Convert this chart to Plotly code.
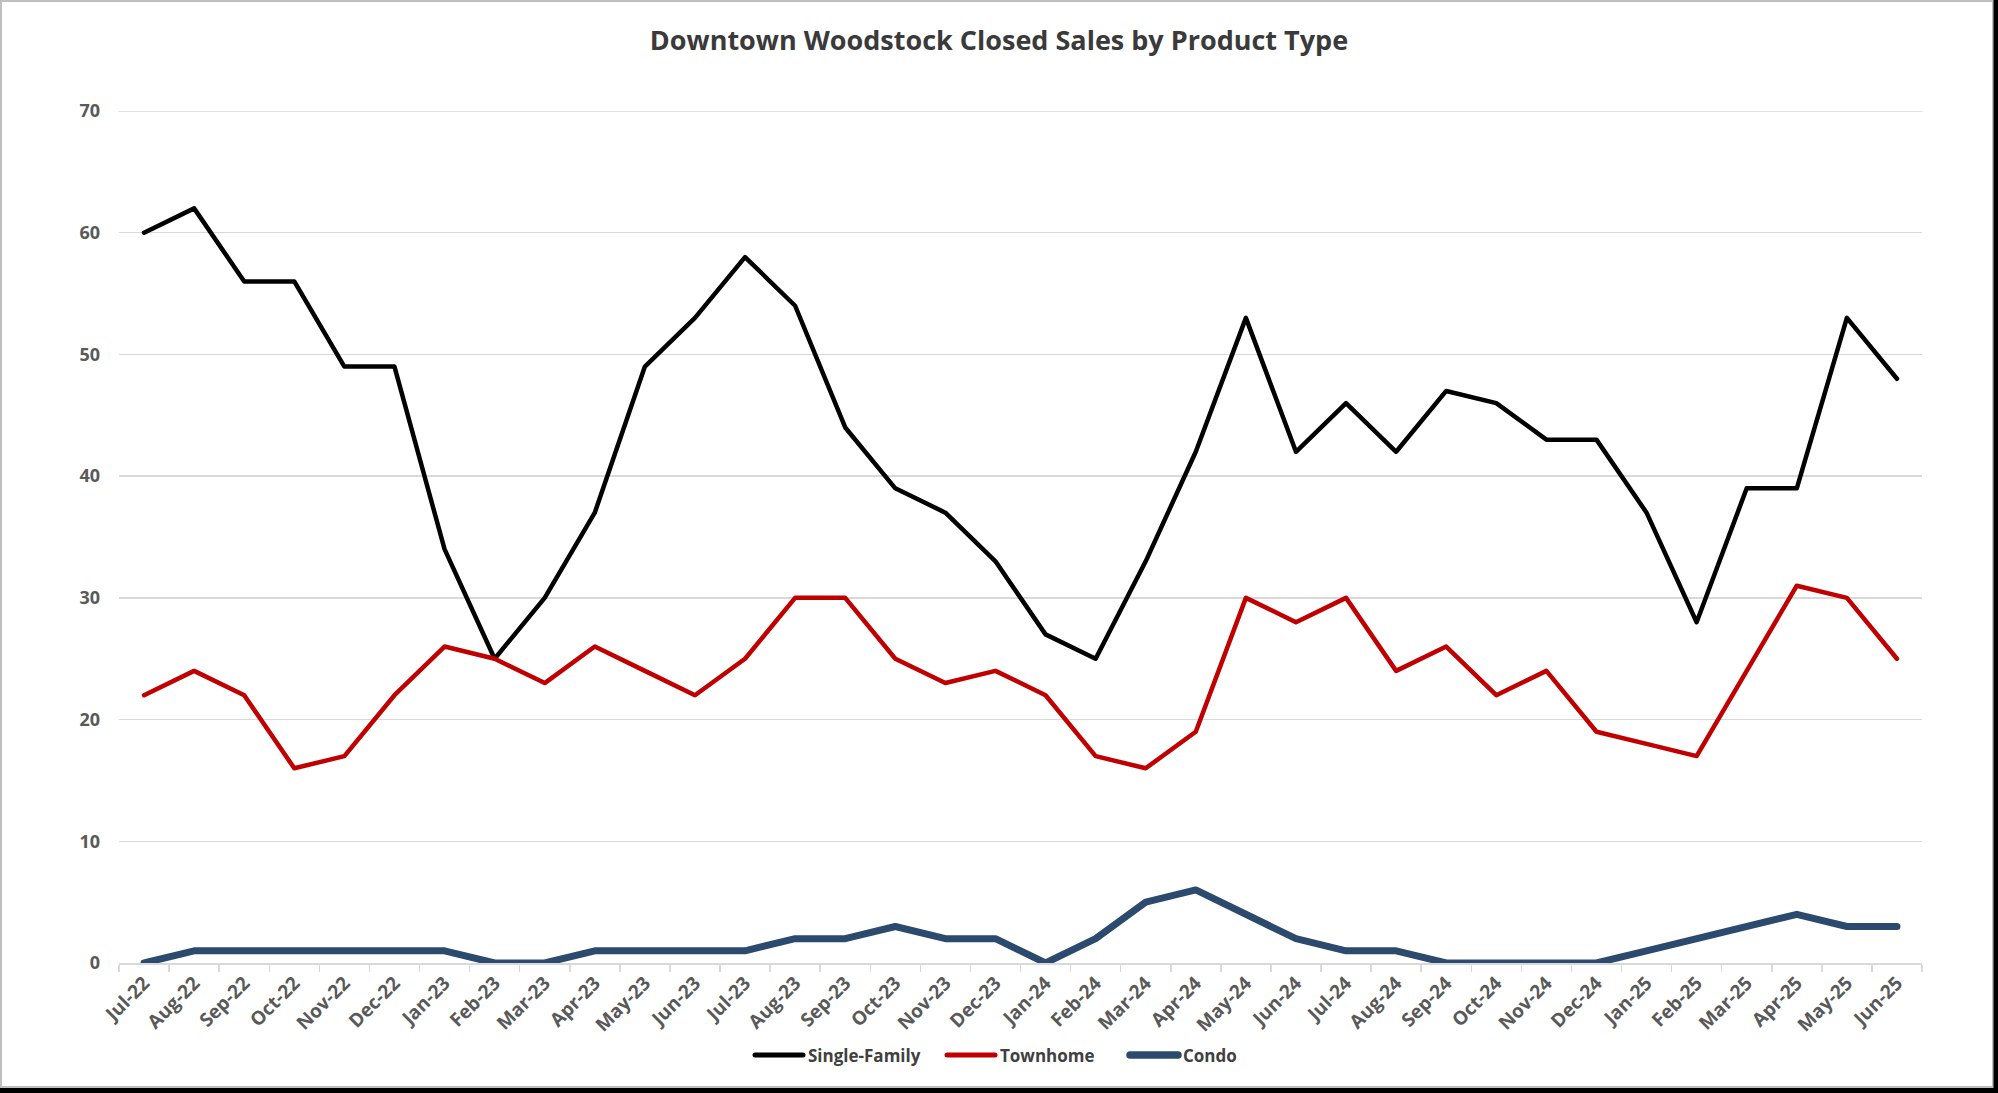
import plotly.graph_objects as go

months = ["Jul-22", "Aug-22", "Sep-22", "Oct-22", "Nov-22", "Dec-22",
          "Jan-23", "Feb-23", "Mar-23", "Apr-23", "May-23", "Jun-23",
          "Jul-23", "Aug-23", "Sep-23", "Oct-23", "Nov-23", "Dec-23",
          "Jan-24", "Feb-24", "Mar-24", "Apr-24", "May-24", "Jun-24",
          "Jul-24", "Aug-24", "Sep-24", "Oct-24", "Nov-24", "Dec-24",
          "Jan-25", "Feb-25", "Mar-25", "Apr-25", "May-25", "Jun-25"]

single_family = [60, 62, 56, 56, 49, 49, 34, 25, 30, 37, 49, 53,
                 58, 54, 44, 39, 37, 33, 27, 25, 33, 42, 53, 42,
                 46, 42, 47, 46, 43, 43, 37, 28, 39, 39, 53, 48]

townhome = [22, 24, 22, 16, 17, 22, 26, 25, 23, 26, 24, 22,
            25, 30, 30, 25, 23, 24, 22, 17, 16, 19, 30, 28,
            30, 24, 26, 22, 24, 19, 18, 17, 24, 31, 30, 25]

condo = [0, 1, 1, 1, 1, 1, 1, 0, 0, 1, 1, 1,
         1, 2, 2, 3, 2, 2, 0, 2, 5, 6, 4, 2,
         1, 1, 0, 0, 0, 0, 1, 2, 3, 4, 3, 3]

series_names = ["Single-Family", "Townhome", "Condo"]
series_colors = ["#000000", "#C00000", "#2C4A6E"]
series_widths = [4.5, 4.5, 7]

y_ticks = [0, 10, 20, 30, 40, 50, 60, 70]

W, H = 1998, 1093
ML, MR, MT, MB = 119, 76, 111, 130
PW, PH = W - ML - MR, H - MT - MB

FONT = "Open Sans"


def px_x(p):
    return (p - ML) / PW


def px_y(p):
    return (H - MB - p) / PH


fig = go.Figure()
for name, vals, col, wd in zip(series_names, [single_family, townhome, condo],
                               series_colors, series_widths):
    fig.add_trace(go.Scatter(x=months, y=vals, name=name, mode="lines",
                             line=dict(color=col, width=wd), showlegend=False))

shapes = [
    # top gridline (70)
    dict(type="line", xref="paper", yref="y", x0=0, x1=1, y0=70, y1=70,
         line=dict(color="#D9D9D9", width=1.5), layer="below"),
    # light frame
    dict(type="rect", xref="paper", yref="paper",
         x0=px_x(1), x1=px_x(W - 5), y0=px_y(1), y1=px_y(H - 6),
         line=dict(color="#BFBFBF", width=2), layer="above"),
    # dark right edge
    dict(type="line", xref="paper", yref="paper",
         x0=px_x(W - 2), x1=px_x(W - 2), y0=px_y(0), y1=px_y(H),
         line=dict(color="#000000", width=5), layer="above"),
    # dark bottom edge
    dict(type="line", xref="paper", yref="paper",
         x0=px_x(0), x1=px_x(W), y0=px_y(H - 2.5), y1=px_y(H - 2.5),
         line=dict(color="#000000", width=5), layer="above"),
]

# custom legend (sample line + label) placed like the original
legend_starts = [755, 947, 1130]
legend_y = 1055
annotations = []
for name, col, wd, x0 in zip(series_names, series_colors, series_widths, legend_starts):
    shapes.append(dict(type="line", xref="paper", yref="paper",
                       x0=px_x(x0), x1=px_x(x0 + 48), y0=px_y(legend_y), y1=px_y(legend_y),
                       line=dict(color=col, width=wd + 0.5), layer="above"))
    annotations.append(dict(text="<b>%s</b>" % name, xref="paper", yref="paper",
                            x=px_x(x0 + 51), y=px_y(legend_y), xanchor="left",
                            yanchor="middle", showarrow=False,
                            font=dict(family=FONT, size=17, color="#404040")))

fig.update_layout(
    width=W, height=H,
    margin=dict(l=ML, r=MR, t=MT, b=MB, pad=0),
    paper_bgcolor="white", plot_bgcolor="white",
    font=dict(family=FONT, color="#595959"),
    title=dict(text="<b>Downtown Woodstock Closed Sales by Product Type</b>",
               x=0.5, xref="container", xanchor="center",
               y=1 - 41 / H, yref="container", yanchor="middle",
               font=dict(family=FONT, size=27, color="#3A3A3A")),
    xaxis=dict(type="category", tickson="boundaries", ticks="outside",
               ticklen=7, tickcolor="#D9D9D9", tickwidth=1.5,
               showline=True, linecolor="#D9D9D9", linewidth=1.5,
               showgrid=False, tickangle=-45,
               tickfont=dict(family=FONT, size=19, color="#595959", weight="bold"),
               range=[-0.5, len(months) - 0.5], fixedrange=True),
    yaxis=dict(range=[0, 70], tickvals=y_ticks, ticktext=[str(v) for v in y_ticks],
               showgrid=True, gridcolor="#D9D9D9", gridwidth=1.5,
               zeroline=False, showline=False, ticks="",
               ticklabelstandoff=18,
               tickfont=dict(family=FONT, size=18, color="#595959", weight="bold")),
    showlegend=False,
    shapes=shapes,
    annotations=annotations,
)

post = (
    "document.body.style.margin='0';"
    "document.body.style.overflow='hidden';"
    "var s=document.createElement('style');"
    "s.textContent='.scatterlayer path.js-line{stroke-linejoin:round;stroke-linecap:round}"
    " .shapelayer path{stroke-linecap:round}';"
    "document.head.appendChild(s);"
)

fig.write_html("out.html", config={"displayModeBar": False, "staticPlot": True},
               post_script=post)
